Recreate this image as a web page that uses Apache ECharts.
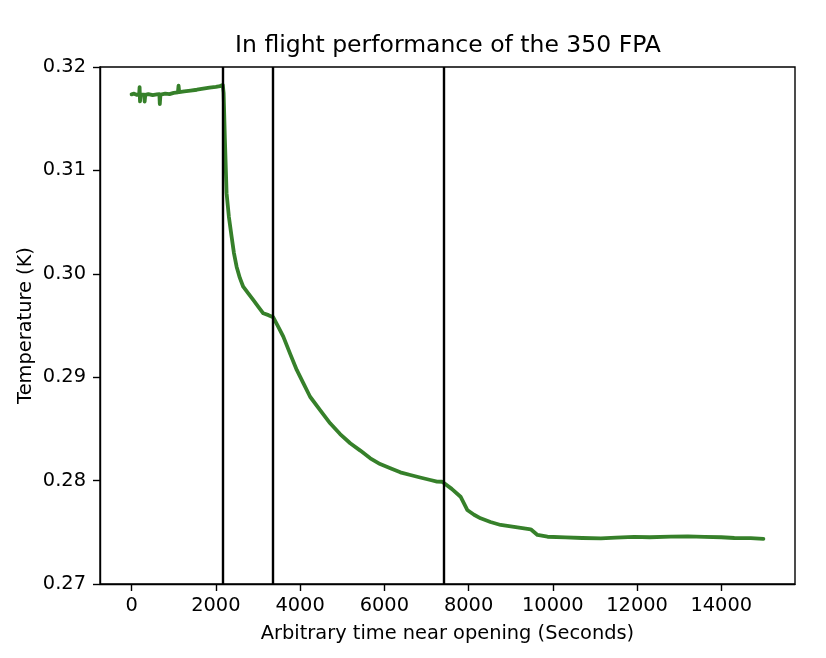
<!DOCTYPE html>
<html>
<head>
<meta charset="utf-8">
<script src="https://cdn.jsdelivr.net/npm/echarts@6/dist/echarts.min.js"></script>
<style>
html,body{margin:0;padding:0;background:#fff;}
#chart{width:826px;height:658px;}
</style>
</head>
<body>
<div id="chart"></div>
<script>
// Data
var timeSeconds = [0,60,120,180,190,200,215,300,310,325,400,500,600,660,670,685,800,900,1000,1100,1115,1130,1250,1400,1550,1700,1850,2000,2100,2165,
  2185,2215,2255,2310,2374,2430,2493,2570,2650,2770,2888,3010,3126,3250,3364,3480,3602,3760,3921,4080,4238,4480,4714,4950,5190,5430,5667,5900,6143,6380,6619,6850,7095,7250,7374,
  7600,7810,7969,8130,8286,8520,8762,9120,9476,9560,9636,9874,10300,10700,11143,11500,11929,12300,12800,13206,13600,14000,14310,14700,15000];
var temperatureK = [0.31735,0.31742,0.31730,0.31738,0.31805,0.31668,0.31735,0.31732,0.31665,0.31730,0.31738,0.31728,0.31735,0.31738,0.31641,0.31733,0.31742,0.31738,0.31750,0.31755,0.31819,0.31758,0.31765,0.31772,0.31780,0.31790,0.31800,0.31808,0.31815,0.31826,
  0.3175,0.3130,0.3078,0.3055,0.3036,0.3020,0.30069,0.2996,0.29875,0.2981,0.29747,0.2968,0.29618,0.2960,0.29579,0.2949,0.29392,0.2923,0.29070,0.2894,0.28811,0.2868,0.28554,0.2845,0.28361,0.2829,0.28216,0.2816,0.28119,0.2808,0.28054,0.2803,0.28006,0.2799,0.27989,
  0.2792,0.27844,0.27716,0.2767,0.27635,0.2760,0.27571,0.2755,0.27529,0.2750,0.27474,0.27457,0.2745,0.27445,0.27442,0.27448,0.27455,0.27452,0.27458,0.27460,0.27455,0.27452,0.27445,0.27443,0.27437];
var eventTimes = [2170, 3360, 7400];
var xTickValues = [0,2000,4000,6000,8000,10000,12000,14000];
var yTickLabels = ['0.27','0.28','0.29','0.30','0.31','0.32'];

var seriesData = timeSeconds.map(function(t,i){return [t, temperatureK[i]];});
var FONT = 'DejaVu Sans';
var FS = 19.4;
var chart = echarts.init(document.getElementById('chart'));
chart.setOption({
  animation:false,
  backgroundColor:'#fff',
  title:{
    text:'In flight performance of the 350 FPA',
    left:448, top:34, textAlign:'center', padding:0,
    textStyle:{fontFamily:FONT,fontSize:23.5,fontWeight:'normal',color:'#000'}
  },
  grid:{left:100,right:31,top:67,bottom:74,show:true,borderColor:'#000',borderWidth:1.4,backgroundColor:'transparent'},
  xAxis:{
    type:'value', min:-750, max:15750,
    name:'Arbitrary time near opening (Seconds)', nameLocation:'middle', nameGap:40, nameMoveOverlap:false,
    nameTextStyle:{fontFamily:FONT,fontSize:FS,color:'#000'},
    axisLine:{show:true,onZero:false,lineStyle:{color:'#000',width:1.4}},
    axisTick:{show:true,length:7,lineStyle:{color:'#000',width:1.4},customValues:xTickValues},
    axisLabel:{fontFamily:FONT,fontSize:FS,color:'#000',margin:12,customValues:xTickValues,
      formatter:function(v){return String(Math.round(v));}},
    splitLine:{show:false}
  },
  yAxis:{
    type:'value', min:0.27, max:0.32, interval:0.01,
    name:'Temperature (K)', nameLocation:'middle', nameGap:65, nameRotate:90, nameMoveOverlap:false,
    nameTextStyle:{fontFamily:FONT,fontSize:FS,color:'#000'},
    axisLine:{show:true,onZero:false,lineStyle:{color:'#000',width:1.4}},
    axisTick:{show:true,length:7,lineStyle:{color:'#000',width:1.4}},
    axisLabel:{fontFamily:FONT,fontSize:FS,color:'#000',margin:14,
      formatter:function(v){var i=Math.round((v-0.27)/0.01);return yTickLabels[i]!==undefined?yTickLabels[i]:v.toFixed(2);}},
    splitLine:{show:false}
  },
  series:[{
    type:'line', data:seriesData, showSymbol:false, symbol:'none',
    lineStyle:{color:'#36802a',width:3.8,join:'round',cap:'round'}, z:2,
    markLine:{
      silent:true, symbol:['none','none'], animation:false,
      label:{show:false},
      lineStyle:{color:'#000',width:2.4,type:'solid'},
      data:eventTimes.map(function(t){return {xAxis:t};})
    }
  }]
});
</script>
</body>
</html>
